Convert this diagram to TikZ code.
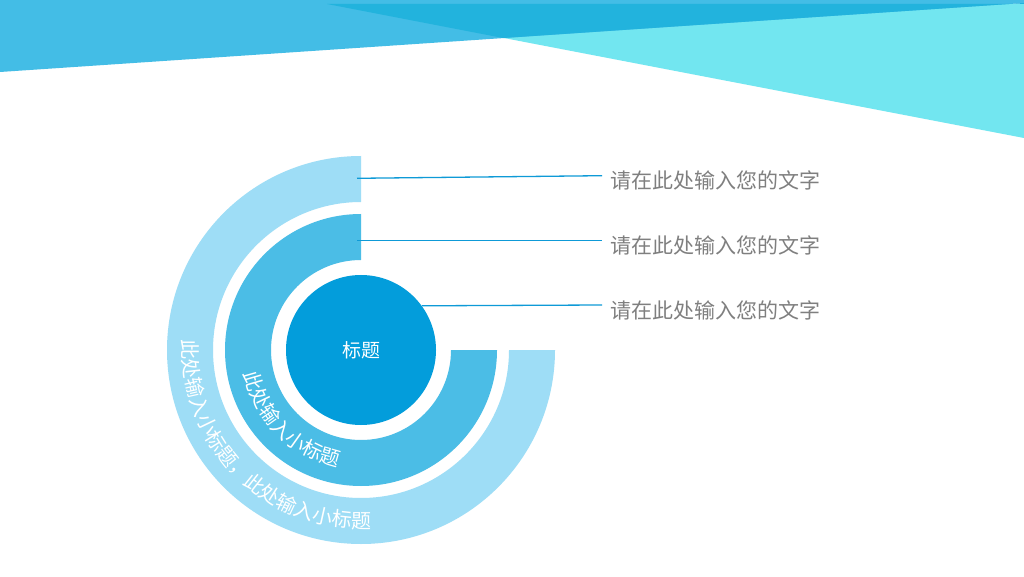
\documentclass[tikz,border=0pt]{standalone}
\usepackage{fontspec}
\setmainfont{Noto Sans CJK SC}
\usetikzlibrary{decorations.text}

\definecolor{topblue}{HTML}{43BDE6}
\definecolor{topdark}{HTML}{22B3DD}
\definecolor{topcyan}{HTML}{72E6F0}
\definecolor{outerc}{HTML}{9EDDF6}
\definecolor{innerc}{HTML}{4BBDE6}
\definecolor{corec}{HTML}{039DDB}
\definecolor{leadc}{HTML}{0E9AD7}
\definecolor{descc}{HTML}{7F7F7F}

\tikzset{
  desc/.style={anchor=west, text=descc, inner xsep=8pt, inner ysep=0pt, yshift=-5pt,
    font=\fontsize{21}{21}\selectfont},
  lead/.style={draw=leadc, line width=1.3pt},
  ringtext/.style={decorate, decoration={text along path, text align=center,
    text={|\fontsize{20}{20}\selectfont\color{white}|#1}}}
}

\begin{document}
\begin{tikzpicture}[x=1pt,y=1pt]
  \fill[white] (0,0) rectangle (1024,576);
  \useasboundingbox (0,0) rectangle (1024,576);

  % top corner
  \fill[topcyan] (327,572) -- (1024,572) -- (1024,438) -- cycle;
  \fill[topblue] (0,576) -- (1024,576) -- (1024,573) -- (0,504) -- cycle;
  \fill[topdark] (327,572) -- (503,538) -- (1024,573) -- (1024,572) -- cycle;

  % rings
  \coordinate (O) at (361,226);
  \fill[outerc] ([shift={(90:194)}]O) arc[start angle=90, end angle=360, radius=194]
    -- ++(-46,0) arc[start angle=360, end angle=90, radius=148] -- cycle;
  \fill[innerc] ([shift={(90:136)}]O) arc[start angle=90, end angle=360, radius=136]
    -- ++(-46,0) arc[start angle=360, end angle=90, radius=90] -- cycle;
  \node[circle, fill=corec, minimum size=150pt, inner sep=0pt, text=white,
    font=\fontsize{19}{19}\selectfont] (core) at (O) {标题};

  \path[ringtext={此处输入小标题，此处输入小标题}]
    ([shift={(160:178)}]O) arc[start angle=160, end angle=290, radius=178];
  \path[ringtext={此处输入小标题}]
    ([shift={(170:119)}]O) arc[start angle=170, end angle=280, radius=119];

  % captions
  \coordinate (r1) at (357,397.7);
  \coordinate (r2) at (357,335.3);
  \node[desc] (t1) at (602,400.3) {请在此处输入您的文字};
  \node[desc] (t2) at (602,335.3) {请在此处输入您的文字};
  \node[desc] (t3) at (602,271) {请在此处输入您的文字};
  \draw[lead] (r1) -- ([yshift=5pt]t1.west);
  \draw[lead] (r2) -- ([yshift=5pt]t2.west);
  \draw[lead] (core.36.5) -- ([yshift=5pt]t3.west);
\end{tikzpicture}
\end{document}
